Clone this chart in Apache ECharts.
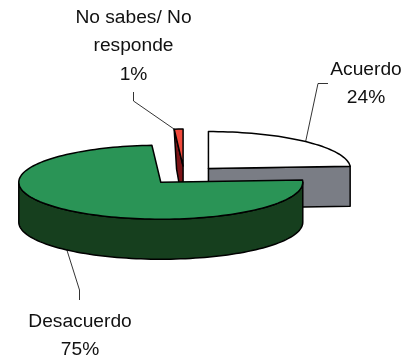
<!DOCTYPE html>
<html><head><meta charset="utf-8">
<style>html,body{margin:0;padding:0;background:#fff}#c{width:416px;height:362px}</style>
<script src="https://cdn.jsdelivr.net/npm/echarts@6/dist/echarts.min.js"></script>
</head><body><div id="c"></div>
<script>
const categories = ['Acuerdo', 'Desacuerdo', 'No sabes/ No\nresponde'];
const shares = [24, 75, 1];
const shareLabels = ['24%', '75%', '1%'];
const topColors = ['#ffffff', '#2a9456', '#f04a3c'];
const wallColors = ['#7a7d85', '#163f1e', '#7d1417'];

const geom = {cx: 184.2, cy: 175.3, rx: 142, ry: 37, depth: 40, explode: 35.4};
// label block centre x and top y; leader elbow points; draw order; cut-face taper
const labelPos = [
  {x: 366, y: 55, elbow: [[318, 83.5], [328, 83.5]]},
  {x: 80, y: 307, elbow: [[79.5, 290], [79.5, 300]]},
  {x: 133.5, y: 3, elbow: [[133.5, 101], [133.5, 92]]}
];
const drawOrder = [1, 3, 2];
const cutTaper = [0, 0, 2.4];
const LINE = 28.6;
const FONT = '19.2px "Liberation Sans", Arial, sans-serif';
const total = shares.reduce((a, b) => a + b, 0);
const rad = d => d * Math.PI / 180;

function renderItem(params, api) {
  const i = params.dataIndex;
  const v = api.value(0);
  let start = 0;
  for (let k = 0; k < i; k++) start += shares[k] / total * 360;
  const end = start + v / total * 360;
  const mid = (start + end) / 2;
  const cx = geom.cx + geom.explode * Math.sin(rad(mid));
  const cy = geom.cy - geom.explode * Math.cos(rad(mid)) * geom.ry / geom.rx;
  const pt = (a, dy) => [cx + geom.rx * Math.sin(rad(a)), cy - geom.ry * Math.cos(rad(a)) + (dy || 0)];
  const stroke = {stroke: '#000', lineWidth: 1.5, lineJoin: 'round'};
  const children = [];
  const arc = (a, b, dy) => {
    const out = [];
    const n = Math.max(2, Math.ceil((b - a) / 2));
    for (let s = 0; s <= n; s++) out.push(pt(a + (b - a) * s / n, dy));
    return out;
  };
  const wall = (pts) => children.push({type: 'polygon', shape: {points: pts}, style: Object.assign({fill: wallColors[i]}, stroke)});
  // outer rim visible on the front half (90..270 degrees)
  const a0 = Math.max(start, 90), a1 = Math.min(end, 270);
  if (a1 > a0) wall(arc(a0, a1, 0).concat(arc(a0, a1, geom.depth).reverse()));
  // cut faces that look towards the viewer
  const c0 = [cx, cy], c1 = [cx, cy + geom.depth];
  const cut = (a) => {
    const low = pt(a, geom.depth);
    low[0] += cutTaper[i];
    wall([c0, pt(a), low, c1]);
  };
  if (Math.sin(rad(end)) > 1e-6) cut(end);
  if (Math.sin(rad(start)) < -1e-6) cut(start);
  // top face
  children.push({type: 'polygon', shape: {points: [c0].concat(arc(start, end, 0))},
    style: Object.assign({fill: topColors[i]}, stroke)});
  // leader line and label
  const a = i === 1 ? pt(mid, geom.depth) : (i === 2 ? pt(start) : pt(mid));
  const lp = labelPos[i];
  children.push({type: 'polyline', z2: 50, shape: {points: [a].concat(lp.elbow)},
    style: {stroke: '#000', lineWidth: 0.8, fill: null}});
  const text = categories[i] + '\n' + shareLabels[i];
  children.push({type: 'text', z2: 60, x: lp.x, y: lp.y, style: {
    text: text, fill: '#111', font: FONT, lineHeight: LINE, align: 'center', verticalAlign: 'top'}});
  return {type: 'group', children: children.map(c => Object.assign({z2: drawOrder[i]}, c))};
}

const chart = echarts.init(document.getElementById('c'), null, {renderer: 'canvas'});
chart.setOption({
  animation: false,
  backgroundColor: '#fff',
  series: [{
    type: 'custom', coordinateSystem: 'none', renderItem,
    data: categories.map((c, i) => ({name: c, value: [shares[i]]}))
  }]
});
</script></body></html>
